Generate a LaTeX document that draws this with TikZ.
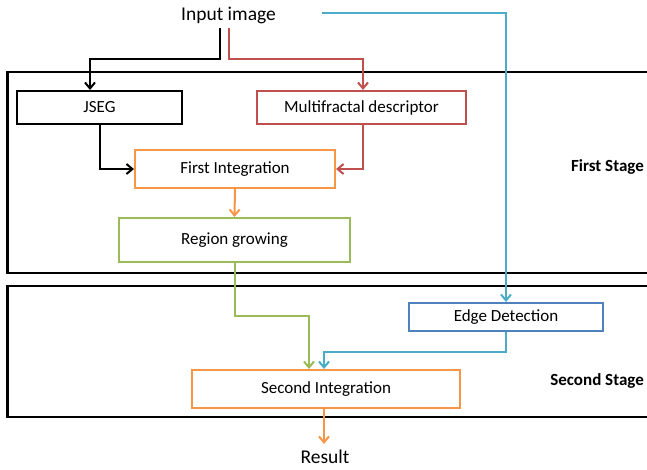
\documentclass[tikz,border=0pt]{standalone}
\usepackage{fontspec}
\setmainfont{Carlito}
\usetikzlibrary{arrows.meta}
\definecolor{redline}{HTML}{C0504D}
\definecolor{orangeline}{HTML}{F79646}
\definecolor{greenline}{HTML}{9BBB59}
\definecolor{blueline}{HTML}{4F81BD}
\definecolor{cyanline}{HTML}{4BACC6}

\begin{document}
\begin{tikzpicture}[
        x=1pt, y=-1pt,
        >={Straight Barb[length=6pt,width=10pt]},
        every node/.style={font=\fontsize{17}{20}\selectfont},
        stepbox/.style={draw,line width=2pt,inner sep=0pt},
        big/.style={font=\fontsize{19.5}{23}\selectfont,inner sep=0pt},
        stagelabel/.style={font=\fontsize{17}{20}\selectfont\bfseries,anchor=east,inner sep=0pt},
        frame/.style={line width=2.4pt},
        flow/.style={->,line width=2pt},
    ]
    \useasboundingbox (0,0) rectangle (647,469);

    % stage frames
    \draw[frame] (647,72) -| (7.5,273) -- (647,273);
    \draw[frame] (647,286) -| (7.5,417) -- (647,417);
    \node[stagelabel] (firststage) at (644,167) {First Stage};
    \node[stagelabel] (secondstage) at (644,381) {Second Stage};

    % blocks
    \node[big] (input) at (228.5,15) {Input image};
    \node[stepbox,minimum width=165,minimum height=33] (jseg) at (99.5,107.5) {JSEG};
    \node[stepbox,draw=redline,minimum width=209,minimum height=33] (multi) at (361.5,107.5) {Multifractal descriptor};
    \node[stepbox,draw=orangeline,minimum width=200,minimum height=38] (firstint) at (235,169) {First Integration};
    \node[stepbox,draw=greenline,minimum width=231,minimum height=44] (region) at (234.5,240) {Region growing};
    \node[stepbox,draw=blueline,minimum width=194,minimum height=28] (edge) at (506,317) {Edge Detection};
    \node[stepbox,draw=orangeline,minimum width=268,minimum height=38] (secondint) at (326,389) {Second Integration};
    \node[big] (result) at (325,457) {Result};

    % connectors
    \draw[flow] ([shift={(-8.5,4.5)}]input.south) -- ++(0,31) -| ([xshift=-9.5]jseg.north);
    \draw[flow,redline] ([shift={(0.5,4.5)}]input.south) -- ++(0,31) -| ([xshift=1.5]multi.north);
    \draw[flow,cyanline] ([shift={(46,-2)}]input.east) -| (edge.north);
    \draw[flow] (jseg.south) |- (firstint.west);
    \draw[flow,redline] ([xshift=1.5]multi.south) |- (firstint.east);
    \draw[flow,orangeline] (firstint.south) -- (region.north);
    \draw[flow,greenline] (region.south) -- ++(0,53) -| ([xshift=-17]secondint.north);
    \draw[flow,cyanline] (edge.south) -- ++(0,20) -| ([xshift=-2]secondint.north);
    \draw[flow,orangeline,shorten >=6pt] ([xshift=-2]secondint.south) -- ([xshift=-1]result.north);
\end{tikzpicture}
\end{document}
